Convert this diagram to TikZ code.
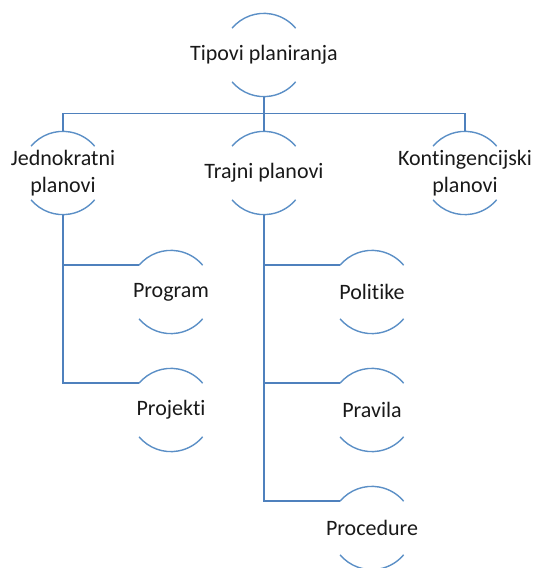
\documentclass[tikz,border=0pt]{standalone}
\usepackage{fontspec}
\setmainfont[Ligatures={NoCommon}]{Carlito}
\definecolor{linec}{HTML}{4F81BD}
\definecolor{arcc}{HTML}{5B8FC6}
\begin{document}
\begin{tikzpicture}[x=1pt,y=1pt,
  hnode/.style={circle, minimum size=83pt, inner sep=0pt, draw=none,
    label={[align=center, font=\fontsize{22}{27}\selectfont, text=black!90]center:#1}},
  conn/.style={draw=linec, line width=1.4pt},
  arcst/.style={draw=arcc, line width=1.4pt}]
\useasboundingbox (0,0) rectangle (534,568);
\node[hnode={Tipovi planiranja}] (T) at (264,513) {};
\node[hnode={Jednokratni\\planovi}] (J) at (63,395) {};
\node[hnode={Trajni planovi}] (Tr) at (264,395) {};
\node[hnode={Kontingencijski\\planovi}] (K) at (465,395) {};
\node[hnode={Program}] (P1) at (171,276) {};
\node[hnode={Projekti}] (Pj) at (171,158) {};
\node[hnode={Politike}] (Po) at (372,276) {};
\node[hnode={Pravila}] (Pr) at (372,158) {};
\node[hnode={Procedure}] (Pc) at (372,40) {};
\foreach \n in {T,J,Tr,K,P1,Pj,Po,Pr,Pc}{
  \draw[arcst] (\n.140) arc (140:40:41.5);
  \draw[arcst] (\n.220) arc (220:320:41.5);
}
\draw[conn] (T.south) -- (Tr.north);
\draw[conn] (J.north) -- ++(0,17.5) -| (K.north);
\draw[conn] (J.south) |- (P1.140);
\draw[conn] (J.south) |- (Pj.140);
\draw[conn] (Tr.south) |- (Po.140);
\draw[conn] (Tr.south) |- (Pr.140);
\draw[conn] (Tr.south) |- (Pc.140);
\end{tikzpicture}
\end{document}
